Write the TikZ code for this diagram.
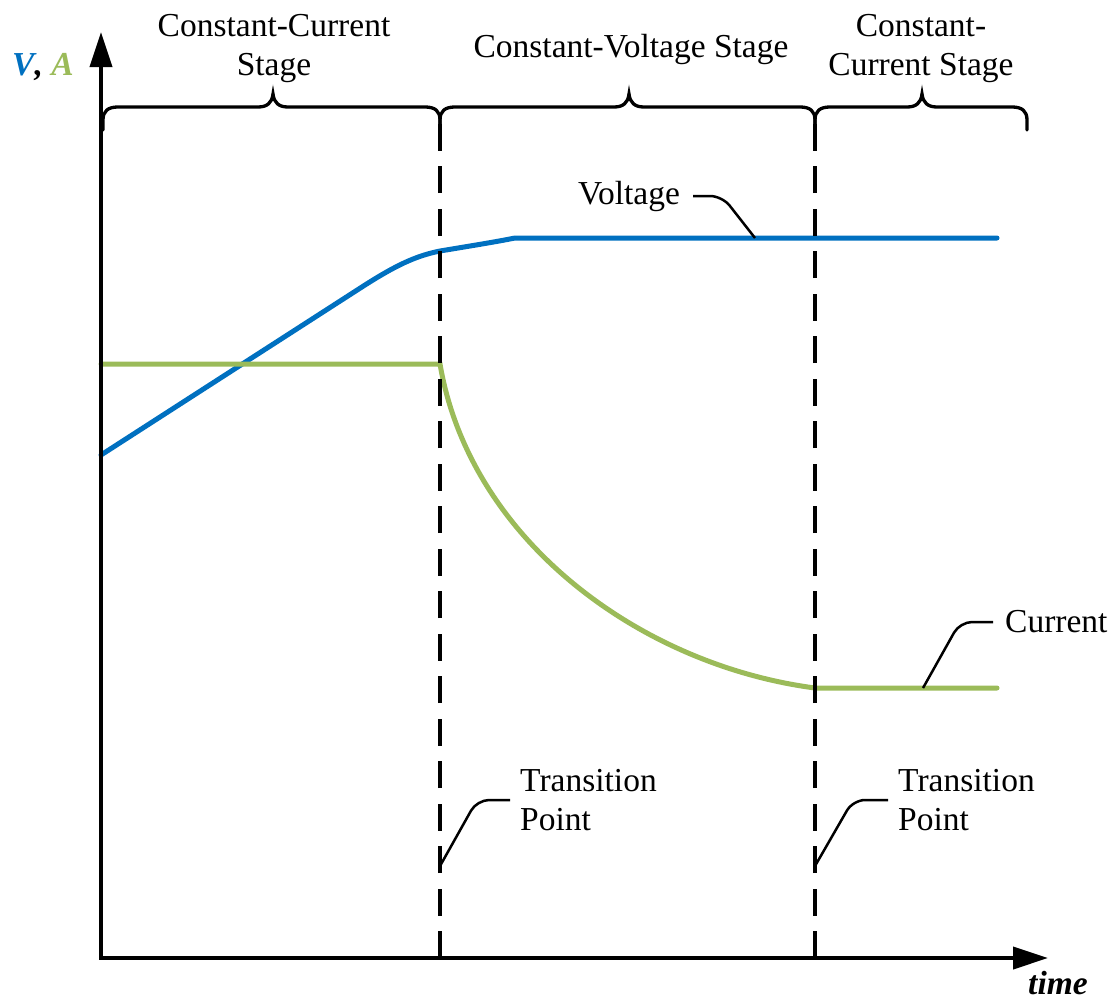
\documentclass[tikz,border=0pt]{standalone}
\usepackage{fontspec}
\setmainfont{Liberation Serif}
\usetikzlibrary{arrows.meta}
\definecolor{vblue}{RGB}{0,112,192}
\definecolor{agreen}{RGB}{155,187,89}

% curly brace over one charging stage: left end, peak, right end
\newcommand{\stagebrace}[3]{%
  \draw[stagebrace] (#1,130) -- (#1,120)
    .. controls (#1,111) and ({#1+5},107) .. ({#1+15},107)
    -- ({#2-15},107)
    .. controls ({#2-6},107) and ({#2-1},103) .. (#2,94)
    .. controls ({#2+1},103) and ({#2+6},107) .. ({#2+15},107)
    -- ({#3-15},107)
    .. controls ({#3-5},107) and (#3,111) .. (#3,120) -- (#3,130);}

\begin{document}
\begin{tikzpicture}[x=1pt,y=-1pt,
  txt/.style={inner sep=0pt,font=\fontsize{33.5}{39}\selectfont},
  axis/.style={line width=4pt,
    {Triangle[length=35pt,width=22pt]}-{Triangle[length=35pt,width=22pt]}},
  stagebrace/.style={line width=3.3pt,line cap=round},
  stagesep/.style={line width=3.5pt,dash pattern=on 27pt off 15.5pt},
  vcurve/.style={line width=5pt,vblue,line cap=round},
  icurve/.style={line width=5pt,agreen,line cap=round},
  leader/.style={line width=2.5pt,rounded corners=12pt}]
\useasboundingbox (0,0) rectangle (1110,1001);

% key points of the plot
\coordinate (O) at (101,958);
\coordinate (ytip) at (101,32);
\coordinate (xtip) at (1048,958);
\coordinate (s1bot) at (440,958);
\coordinate (s1top) at (440,112);
\coordinate (s2bot) at (815,958);
\coordinate (s2top) at (815,112);

% voltage: linear rise, knee, then constant
\coordinate (v0) at (101,455);
\coordinate (v1) at (365,285);
\coordinate (v2) at (440,251);
\coordinate (v3) at (515,238);
\coordinate (v4) at (997,238);
\draw[vcurve] (v0) -- (v1) .. controls (395,266) and (415,256) .. (v2)
  .. controls (470,246) and (495,242) .. (v3) -- (v4);

% current: constant, decaying, then constant
\coordinate (i0) at (101,364);
\coordinate (i1) at (440,364);
\coordinate (i2) at (815,688);
\coordinate (i3) at (997,688);
\draw[icurve] (i0) -- (i1) .. controls (470,540) and (640,665) .. (i2) -- (i3);

% stage boundaries
\draw[stagesep] (s1bot) -- (s1top);
\draw[stagesep] (s2bot) -- (s2top);

% stage braces
\stagebrace{103}{273}{440}
\stagebrace{440}{629}{815}
\stagebrace{815}{922}{1027}

% stage titles
\node[txt,anchor=north,align=center] (cc1) at (274,14.5) {Constant-Current\\Stage};
\node[txt,anchor=base] (cv) at (631,57) {Constant-Voltage Stage};
\node[txt,anchor=north,align=center] (cc2) at (921,14.5) {Constant-\\Current Stage};

% axes
\draw[axis] (ytip) -- (O) -- (xtip);
\node[txt,anchor=base west] (ylab) at (12,75)
  {\bfseries\itshape\textcolor{vblue}{V}, \textcolor{agreen}{A}};
\node[txt,anchor=base west] (xlab) at (1028,994) {\bfseries\itshape time};

% curve labels
\node[txt,anchor=west] (vlab) at (578,196) {Voltage};
\coordinate (vpt) at (755,238);
\draw[leader] ([xshift=13pt]vlab.east) -- ++(29,0) -- (vpt);

\node[txt,anchor=west] (ilab) at (1005,622) {Current};
\coordinate (ipt) at (923,688);
\draw[leader] ([xshift=-12pt]ilab.west) -- ++(-33,0) -- (ipt);

% transition points
\node[txt,anchor=west,align=left] (tp1) at (520,800) {Transition\\Point};
\coordinate (tpa) at (440,866);
\draw[leader] ([xshift=-10pt]tp1.west) -- ++(-33,0) -- (tpa);

\node[txt,anchor=west,align=left] (tp2) at (898,800) {Transition\\Point};
\coordinate (tpb) at (815,866);
\draw[leader] ([xshift=-10pt]tp2.west) -- ++(-35,0) -- (tpb);
\end{tikzpicture}
\end{document}
